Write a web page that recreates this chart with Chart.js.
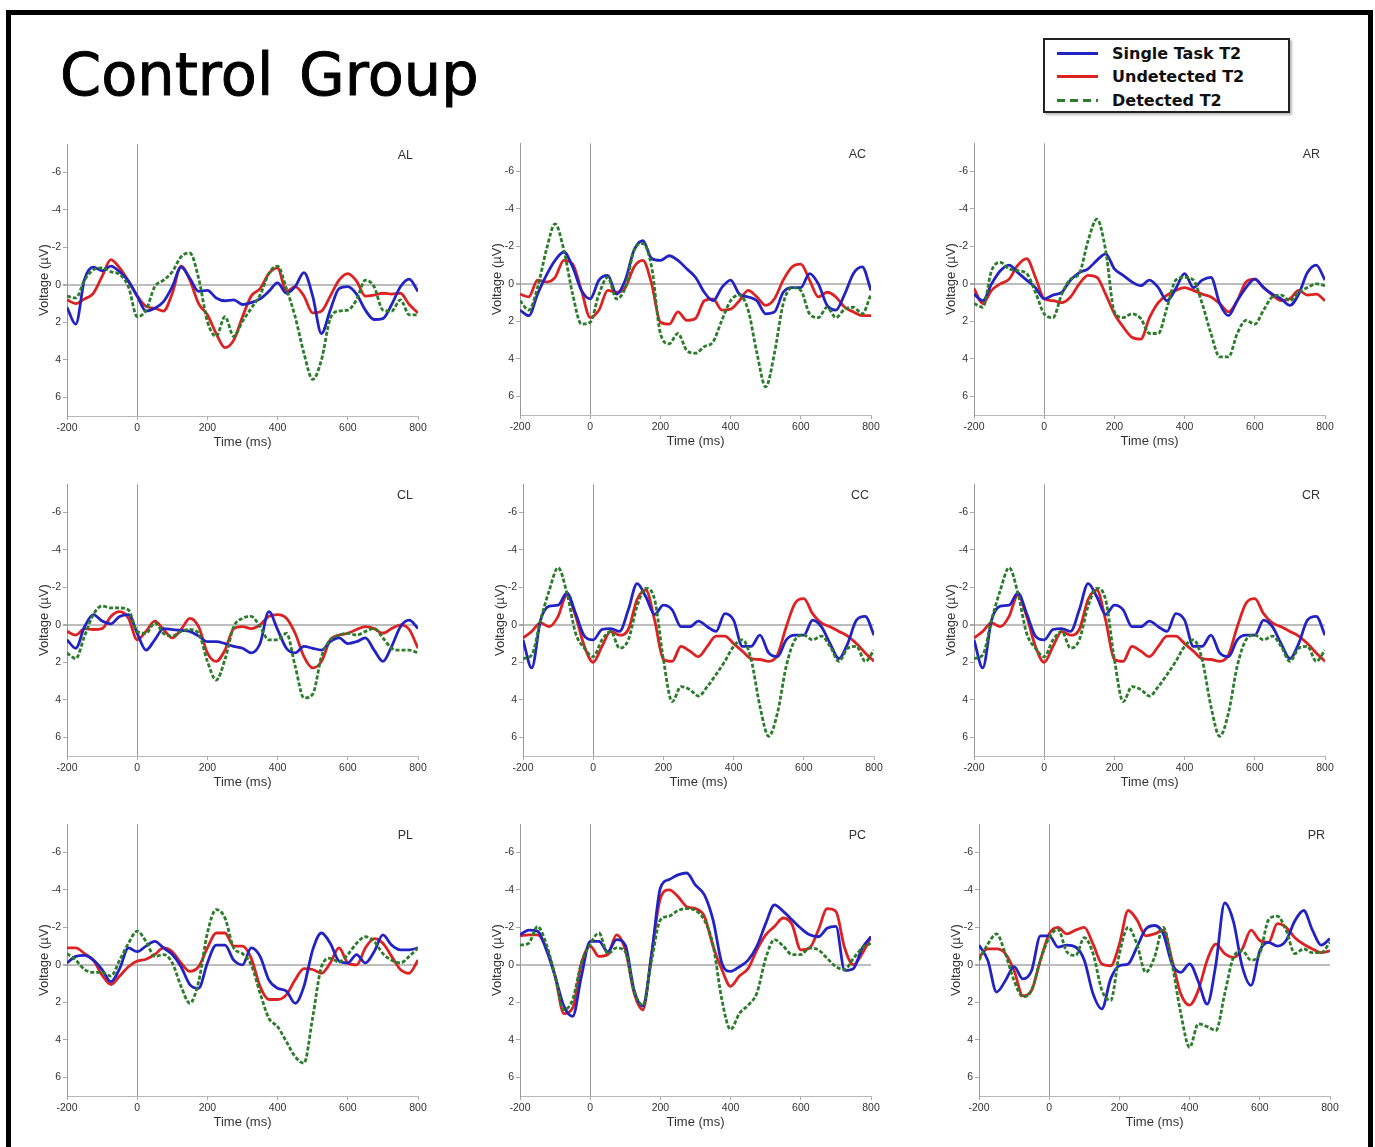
<!DOCTYPE html>
<html>
<head>
<meta charset="utf-8">
<title>Control Group</title>
<script src="https://cdn.jsdelivr.net/npm/chart.js"></script>
<style>
    html, body { margin: 0; padding: 0; background: #fff; overflow: hidden; }
    #page { position: relative; width: 1375px; height: 1147px; overflow: hidden; }
    #frame { position: absolute; left: 6px; top: 10px; width: 1357px; height: 1200px; border: 5px solid #000; border-bottom: none; }
    #title { position: absolute; left: 60px; top: 45px; font-family: "DejaVu Sans", Verdana, sans-serif; font-size: 59px; line-height: 59px; word-spacing: 7px; color: #000; -webkit-text-stroke: 0.9px #000; white-space: pre; }
    #legend { position: absolute; left: 1043px; top: 38px; width: 243px; height: 71px; border: 2px solid #222; box-shadow: 2px 2px 2px #bbb; background: #fff; }
    .row { position: absolute; left: 0; height: 22px; width: 243px; }
    .swatch { position: absolute; left: 12px; top: 9px; width: 41px; height: 3px; }
    .txt { position: absolute; left: 67px; top: 0; font-family: "DejaVu Sans", Verdana, sans-serif; font-weight: bold; font-size: 16px; line-height: 22px; color: #111; white-space: nowrap; }
    canvas.panel { position: absolute; }
</style>
</head>
<body>
<div id="page">
    <div id="frame"></div>
    <div id="title">Control Group</div>
    <div id="legend">
        <div class="row" style="top:3px"><div class="swatch" style="background:#2323c4"></div><div class="txt">Single Task T2</div></div>
        <div class="row" style="top:26px"><div class="swatch" style="background:#dc2222"></div><div class="txt">Undetected T2</div></div>
        <div class="row" style="top:50px"><div class="swatch" style="background:repeating-linear-gradient(to right, #2b7d2b 0 8px, transparent 8px 13px)"></div><div class="txt">Detected T2</div></div>
    </div>
    <canvas class="panel" id="AL" width="407" height="316"></canvas>
    <canvas class="panel" id="AC" width="407" height="316"></canvas>
    <canvas class="panel" id="AR" width="407" height="316"></canvas>
    <canvas class="panel" id="CL" width="407" height="316"></canvas>
    <canvas class="panel" id="CC" width="407" height="316"></canvas>
    <canvas class="panel" id="CR" width="407" height="316"></canvas>
    <canvas class="panel" id="PL" width="407" height="316"></canvas>
    <canvas class="panel" id="PC" width="407" height="316"></canvas>
    <canvas class="panel" id="PR" width="407" height="316"></canvas>
</div>

<script>
    // time axis (ms), one sample every 25 ms
    const times = [-200, -175, -150, -125, -100, -75, -50, -25, 0, 25, 50, 75, 100, 125, 150, 175, 200,
        225, 250, 275, 300, 325, 350, 375, 400, 425, 450, 475, 500, 525, 550, 575, 600, 625, 650, 675,
        700, 725, 750, 775, 800];
    const xTicks = [-200, 0, 200, 400, 600, 800];
    const yTicks = [-6, -4, -2, 0, 2, 4, 6];
    const seriesNames = ['Single Task T2', 'Undetected T2', 'Detected T2'];

    // voltages (uV), negative up
    const alSingle = [1.2, 2.1, -0.3, -0.95, -0.75, -1.0, -0.7, -0.2, 0.6, 1.4, 1.25, 0.9, 0.1, -0.95, -0.35, 0.35, 0.3, 0.7, 0.85, 0.8, 1.05, 0.95, 0.75, 0.35, -0.1, 0.45, 0.1, -0.65, 0.6, 2.6, 1.35, 0.2, 0.1, 0.5, 1.35, 1.85, 1.8, 1.05, 0.1, -0.3, 0.35];
    const alUndetected = [0.8, 1.0, 0.75, 0.45, -0.45, -1.35, -0.9, -0.2, 0.6, 1.15, 1.25, 1.4, 0.45, -1.0, -0.25, 1.0, 1.6, 2.6, 3.35, 2.95, 1.7, 0.6, 0.2, -0.6, -0.9, 0.35, 0.1, 0.6, 1.5, 1.4, 0.6, -0.25, -0.6, -0.2, 0.6, 0.55, 0.45, 0.5, 0.45, 1.05, 1.5];
    const alDetected = [0.6, 0.7, -0.25, -0.8, -0.9, -0.7, -0.55, 0.1, 1.7, 1.35, 0.1, -0.25, -0.7, -1.5, -1.7, -0.35, 1.95, 2.75, 1.7, 2.75, 1.95, 1.25, 0.55, -0.6, -1.0, 0.2, 1.7, 3.65, 5.05, 4.0, 1.8, 1.4, 1.35, 0.8, -0.25, 0.1, 1.35, 1.4, 0.8, 1.6, 1.6];

    const acSingle = [1.4, 1.7, 0.55, -0.45, -1.25, -1.7, -0.9, 0.35, 0.8, -0.2, -0.45, 0.55, -0.2, -1.8, -2.3, -1.35, -1.25, -1.5, -1.25, -0.8, -0.35, 0.45, 0.9, 0.2, -0.2, 0.55, 0.7, 0.9, 1.6, 1.5, 0.45, 0.2, 0.2, -0.55, 0, 1.15, 1.4, 0.55, -0.55, -0.9, 0.35];
    const acUndetected = [0.55, 0.7, -0.2, -0.1, -0.35, -1.25, -1.05, 0.35, 1.8, 1.4, 0.35, 0.45, 0.2, -0.9, -1.25, 0, 2.05, 2.15, 1.5, 1.95, 1.85, 0.9, 0.8, 1.4, 1.35, 0.9, 0.35, 0.7, 1.15, 0.8, -0.2, -0.9, -1.05, -0.2, 0.7, 0.45, 0.7, 1.25, 1.5, 1.7, 1.7];
    const acDetected = [0.9, 1.4, 0.2, -1.8, -3.2, -1.8, 0.55, 2.15, 2.05, 0.55, -0.35, 0.8, 0.2, -1.8, -2.15, -0.9, 2.65, 3.2, 2.65, 3.55, 3.7, 3.35, 3.1, 1.95, 0.9, 0.6, 1.4, 3.7, 5.5, 3.7, 1.05, 0.2, 0.35, 1.6, 1.8, 1.25, 1.8, 1.35, 1.25, 1.6, 0.55];

    const arSingle = [0.55, 0.9, 0, -0.7, -1.0, -0.6, -0.2, 0.2, 0.8, 0.6, 0.45, -0.2, -0.6, -0.8, -1.25, -1.6, -0.8, -0.45, -0.1, 0.1, -0.2, 0.2, 0.9, 0.25, -0.55, 0.2, -0.2, -0.35, 1.05, 1.7, 0.9, 0.2, -0.25, 0.2, 0.55, 0.8, 1.15, 0.55, -0.6, -1.0, -0.2];
    const arUndetected = [0.25, 1.05, 0.35, 0, -0.25, -1.0, -1.35, -0.35, 0.8, 0.9, 1.0, 0.7, 0, -0.45, -0.35, 0.55, 1.6, 2.3, 2.85, 2.95, 1.8, 1.0, 0.6, 0.35, 0.2, 0.35, 0.55, 0.7, 1.05, 1.5, 0.9, -0.1, -0.25, 0.2, 0.6, 0.9, 0.8, 0.35, 0.6, 0.55, 0.9];
    const arDetected = [1.05, 1.25, -0.7, -1.15, -0.8, -0.7, -0.55, 0.45, 1.6, 1.8, 0.55, -0.25, -0.55, -2.3, -3.45, -1.8, 1.5, 1.8, 1.6, 1.85, 2.65, 2.65, 1.25, -0.2, -0.35, -0.2, 1.05, 2.65, 3.9, 3.9, 2.65, 1.95, 2.15, 1.4, 0.7, 0.6, 0.9, 0.45, 0.2, 0, 0.1];

    const clSingle = [0.8, 1.25, 0.1, -0.55, -0.2, -0.05, -0.45, -0.55, 0.45, 1.35, 0.8, 0.2, 0.25, 0.3, 0.35, 0.6, 0.9, 0.9, 1.0, 1.15, 1.25, 1.5, 1.0, -0.7, 0.25, 1.25, 1.5, 1.15, 1.25, 1.35, 0.9, 0.7, 1.0, 0.9, 0.7, 1.35, 1.95, 1.15, 0.1, -0.25, 0.2];
    const clUndetected = [0.35, 0.55, 0.2, 0.25, 0.2, -0.45, -0.7, -0.35, 0.8, 0.35, -0.2, 0.25, 0.7, 0.25, -0.35, 0.1, 1.5, 1.95, 1.35, 0.2, 0.1, 0.2, 0, -0.45, -0.55, -0.35, 0.45, 1.7, 2.3, 1.95, 0.8, 0.55, 0.45, 0.25, 0.1, 0.2, 0.45, 0.2, 0, 0.25, 1.25];
    const clDetected = [1.5, 1.8, 0.6, -0.55, -1.0, -0.9, -0.9, -0.8, 0.35, 0.45, -0.1, 0.45, 0.6, 0.35, 0.25, 0.45, 1.95, 2.95, 1.85, 0.1, -0.35, -0.45, 0.1, 0.8, 0.8, 0.45, 2.2, 3.9, 3.7, 1.7, 0.8, 0.55, 0.45, 0.55, 0.35, 0.2, 0.7, 1.25, 1.35, 1.35, 1.5];

    const ccSingle = [0.8, 2.3, -0.25, -1.0, -1.05, -1.7, -0.6, 0.6, 0.8, 0.25, 0.2, 0.35, -0.8, -2.2, -1.5, -0.55, -1.05, -0.8, 0.1, 0.1, -0.2, 0.1, 0.35, -0.6, -0.25, 1.15, 1.15, 0.55, 1.5, 1.7, 0.8, 0.55, 0.55, -0.25, 0.1, 1.0, 1.8, 1.0, -0.25, -0.45, 0.55];
    const ccUndetected = [0.7, 0.35, -0.1, 0.1, -0.45, -1.6, -0.45, 1.15, 2.0, 1.15, 0.35, 0.55, 0.25, -1.35, -1.85, -0.25, 1.85, 1.95, 1.15, 1.4, 1.7, 1.15, 0.6, 0.6, 1.0, 1.4, 1.8, 1.85, 1.95, 1.6, 0.1, -1.15, -1.4, -0.6, -0.1, 0.1, 0.35, 0.6, 1.0, 1.5, 1.95];
    const ccDetected = [1.8, 1.6, -0.25, -1.85, -3.05, -1.7, 0.45, 1.25, 1.7, 0.8, 0.35, 1.25, 0.8, -1.0, -1.95, -1.35, 1.85, 4.1, 3.3, 3.45, 3.8, 3.3, 2.65, 1.95, 1.15, 0.8, 1.85, 4.35, 5.95, 4.7, 2.2, 0.8, 0.55, 0.8, 0.6, 1.15, 1.95, 1.25, 1.15, 1.95, 1.35];

    // CR looks the same as CC in the figure
    const crSingle = ccSingle.slice();
    const crUndetected = ccUndetected.slice();
    const crDetected = ccDetected.slice();

    const plSingle = [-0.1, -0.45, -0.5, -0.25, 0.25, 0.9, 0.2, -0.9, -0.7, -1.0, -1.25, -0.9, -0.55, 0.1, 1.05, 1.25, -0.1, -1.05, -1.05, -0.25, 0, -0.9, -0.45, 0.8, 1.25, 1.4, 2.05, 1.15, -0.8, -1.7, -1.15, -0.2, -0.1, -0.55, -0.1, -0.7, -1.6, -1.05, -0.8, -0.8, -0.9];
    const plUndetected = [-0.9, -0.9, -0.6, -0.25, 0.55, 1.05, 0.6, 0.1, -0.2, -0.3, -0.55, -0.9, -0.7, -0.1, 0.35, 0.1, -0.9, -1.7, -1.7, -1.0, -1.0, -0.35, 1.15, 1.85, 1.85, 1.6, 0.8, 0.2, 0.25, 0.45, -0.1, -0.9, -0.1, 0, -0.9, -1.4, -1.15, -0.45, 0.25, 0.45, -0.25];
    const plDetected = [-0.6, -0.25, 0.25, 0.4, 0.4, 0.6, -0.25, -1.15, -1.8, -1.25, -0.45, -0.55, -0.1, 1.15, 2.05, 0.9, -1.7, -2.95, -2.5, -0.9, -0.6, 0, 1.5, 2.85, 3.3, 4.1, 4.9, 5.25, 2.8, 0.1, -0.35, -0.15, -0.55, -1.15, -1.5, -1.25, -0.6, -0.25, -0.1, -0.45, -0.9];

    const pcSingle = [-1.6, -1.85, -1.8, -0.8, 0.6, 2.2, 2.75, 0.6, -1.25, -1.25, -0.7, -1.35, -1.05, 1.35, 2.2, -0.55, -4.1, -4.55, -4.8, -4.9, -4.25, -3.75, -2.4, -0.1, 0.35, 0.1, -0.25, -1.0, -2.2, -3.2, -2.85, -2.4, -1.95, -1.6, -1.5, -1.95, -2.05, 0.3, 0.2, -0.9, -1.5];
    const pcUndetected = [-1.55, -1.6, -1.6, -0.9, 0.6, 2.6, 2.3, -0.1, -1.0, -0.45, -0.55, -1.6, -0.8, 1.5, 2.4, -0.6, -3.55, -4.0, -3.65, -3.1, -3.0, -2.6, -1.0, 0.25, 1.15, 0.6, 0.2, -0.8, -1.6, -2.05, -2.5, -2.15, -0.8, -0.9, -1.85, -3.0, -2.85, -0.9, 0, -0.6, -1.5];
    const pcDetected = [-1.05, -1.15, -2.05, -1.1, 0.6, 2.4, 1.85, -0.1, -1.1, -1.7, -0.6, -0.9, -0.7, 1.4, 2.15, -0.25, -2.4, -2.6, -2.9, -3.0, -2.9, -2.4, -1.05, 1.85, 3.45, 2.6, 2.15, 1.5, -0.35, -1.35, -1.0, -0.55, -0.55, -0.9, -0.8, -0.35, 0.1, 0.25, -0.35, -0.9, -1.15];

    const prSingle = [-1.05, -0.25, 1.45, 0.85, 0.1, 0.75, 0.3, -1.55, -1.55, -0.95, -1.05, -0.95, -0.25, 1.55, 2.35, 0.75, 0.05, -0.05, -0.95, -1.9, -2.1, -1.65, -0.05, 0.4, -0.05, 0.9, 2.1, -0.05, -3.3, -2.3, 0.1, 1.1, -0.75, -1.2, -1.0, -1.3, -2.35, -2.9, -1.85, -1.05, -1.4];
    const prUndetected = [-0.4, -0.85, -0.85, -0.6, 0.3, 1.65, 1.35, -0.25, -1.65, -2.0, -1.65, -1.85, -2.0, -1.1, -0.05, 0.05, -1.1, -2.9, -2.4, -1.55, -1.65, -1.85, -0.25, 1.55, 2.15, 1.35, -0.25, -1.1, -0.6, -0.4, -0.85, -1.85, -1.3, -1.2, -2.2, -2.0, -1.45, -1.1, -0.85, -0.65, -0.75];
    const prDetected = [-0.25, -1.1, -1.65, -0.6, 0.85, 1.7, 1.35, -0.25, -1.45, -1.9, -0.7, -0.5, -1.45, -0.6, 1.35, 1.9, -0.6, -2.0, -1.1, 0.4, -0.4, -2.0, -0.05, 2.6, 4.4, 3.15, 3.3, 3.5, 1.55, -0.4, -0.75, -0.25, -0.6, -2.4, -2.6, -1.85, -0.6, -0.85, -0.65, -0.65, -1.2];

    // where each panel canvas sits on the page
    const panelLeft = {AL: 27, AC: 480, AR: 934, CL: 27, CC: 483, CR: 934, PL: 27, PC: 480, PR: 939};
    const panelTop = {AL: 136, AC: 135, AR: 135, CL: 476, CC: 476, CR: 476, PL: 816, PC: 816, PR: 816};

    Chart.defaults.font.family = '"Liberation Sans", Arial, sans-serif';
    Chart.defaults.color = '#333';

    const panelLabel = {
        id: 'panelLabel',
        afterDraw(chart, args, opts) {
            const {ctx, chartArea} = chart;
            ctx.save();
            ctx.font = '12.5px "Liberation Sans", Arial, sans-serif';
            ctx.fillStyle = '#333';
            ctx.textAlign = 'right';
            ctx.textBaseline = 'middle';
            ctx.fillText(opts.text, chartArea.right - 5, chartArea.top + 11.5);
            ctx.restore();
        }
    };

    const clear = 'rgba(0,0,0,0)';

    function drawPanel(name, single, undetected, detected) {
        const canvas = document.getElementById(name);
        canvas.style.left = panelLeft[name] + 'px';
        canvas.style.top = panelTop[name] + 'px';
        const pts = vals => times.map((t, i) => ({x: t, y: vals[i]}));

        new Chart(canvas, {
            type: 'line',
            data: {
                datasets: [
                    {label: seriesNames[0], data: pts(single), borderColor: '#2323c4', order: 1},
                    {label: seriesNames[1], data: pts(undetected), borderColor: '#dc2222', order: 2},
                    {label: seriesNames[2], data: pts(detected), borderColor: '#2b7d2b', borderDash: [4, 2], order: 0}
                ]
            },
            options: {
                responsive: false,
                animation: false,
                events: [],
                layout: {padding: {top: 8, right: 16, left: 0, bottom: 0}},
                elements: {
                    point: {radius: 0},
                    line: {borderWidth: 2.8, cubicInterpolationMode: 'monotone', fill: false}
                },
                plugins: {
                    legend: {display: false},
                    tooltip: {enabled: false},
                    panelLabel: {text: name}
                },
                scales: {
                    x: {
                        type: 'linear',
                        min: -200,
                        max: 800,
                        afterBuildTicks: s => { s.ticks = xTicks.map(v => ({value: v})); },
                        afterFit: s => { s.height = 36; },
                        grid: {
                            color: c => (c.tick && c.tick.value === 0) ? '#9a9a9a' : clear,
                            tickColor: '#aaa',
                            tickLength: 4
                        },
                        border: {color: '#b8b8b8', width: 1},
                        ticks: {font: {size: 10.5}, padding: 2, maxRotation: 0, autoSkip: false},
                        title: {display: true, text: 'Time (ms)', font: {size: 13}, padding: {top: 0, bottom: 2}}
                    },
                    y: {
                        min: -7.5,
                        max: 7,
                        reverse: true,
                        afterBuildTicks: s => { s.ticks = yTicks.map(v => ({value: v})); },
                        afterFit: s => { s.width = 40; },
                        grid: {
                            color: c => (c.tick && c.tick.value === 0) ? '#bdbdbd' : clear,
                            lineWidth: c => (c.tick && c.tick.value === 0) ? 2 : 1,
                            tickColor: '#aaa',
                            tickLength: 4
                        },
                        border: {color: '#9a9a9a', width: 1},
                        ticks: {font: {size: 10.5}, padding: 2},
                        title: {display: true, text: 'Voltage (µV)', font: {size: 13}, padding: {top: 10, bottom: 0}}
                    }
                }
            },
            plugins: [panelLabel]
        });
    }

    drawPanel('AL', alSingle, alUndetected, alDetected);
    drawPanel('AC', acSingle, acUndetected, acDetected);
    drawPanel('AR', arSingle, arUndetected, arDetected);
    drawPanel('CL', clSingle, clUndetected, clDetected);
    drawPanel('CC', ccSingle, ccUndetected, ccDetected);
    drawPanel('CR', crSingle, crUndetected, crDetected);
    drawPanel('PL', plSingle, plUndetected, plDetected);
    drawPanel('PC', pcSingle, pcUndetected, pcDetected);
    drawPanel('PR', prSingle, prUndetected, prDetected);
</script>
</body>
</html>
